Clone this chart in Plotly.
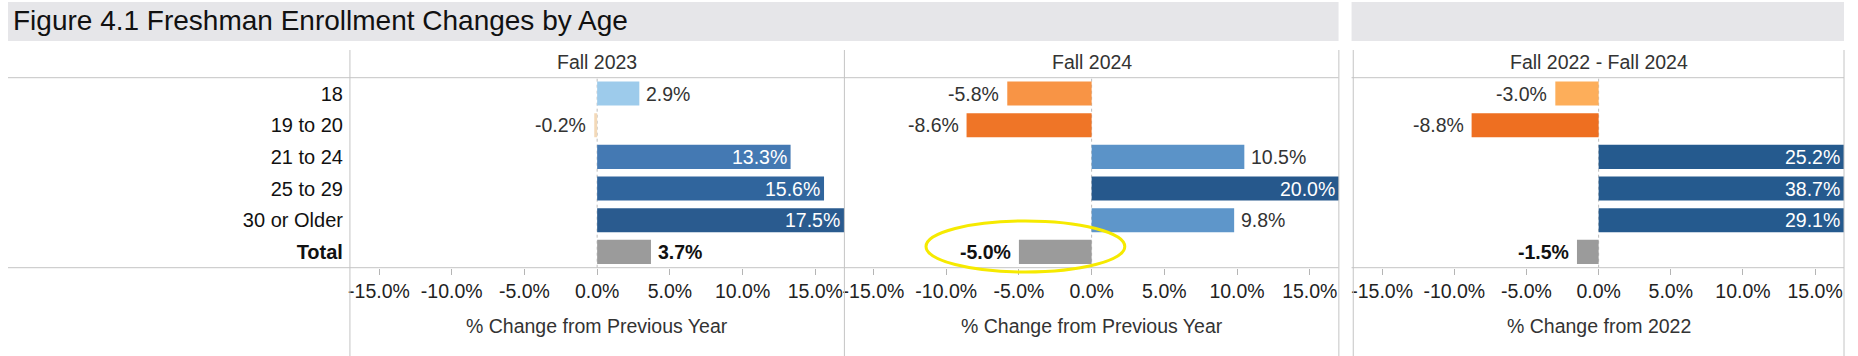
import plotly.graph_objects as go

# ---------------- data ----------------
chart_title = "Figure 4.1 Freshman Enrollment Changes by Age"
categories = ["18", "19 to 20", "21 to 24", "25 to 29", "30 or Older", "Total"]
fall_2023 = [2.9, -0.2, 13.3, 15.6, 17.5, 3.7]
fall_2024 = [-5.8, -8.6, 10.5, 20.0, 9.8, -5.0]
fall_2022_2024 = [-3.0, -8.8, 25.2, 38.7, 29.1, -1.5]
panel_titles = ["Fall 2023", "Fall 2024", "Fall 2022 - Fall 2024"]
axis_titles = ["% Change from Previous Year", "% Change from Previous Year", "% Change from 2022"]
tick_values = [-15, -10, -5, 0, 5, 10, 15]
tick_labels = ["-15.0%", "-10.0%", "-5.0%", "0.0%", "5.0%", "10.0%", "15.0%"]

# ---------------- styles ----------------
colors_2023 = ["#9dcbeb", "#f3d9b8", "#4479b3", "#30659d", "#2a5b8f", "#9b9b9b"]
colors_2024 = ["#f89445", "#ef7527", "#5b93c8", "#26588c", "#5e96ca", "#9b9b9b"]
colors_22_24 = ["#fdae5a", "#ee6f21", "#255a8e", "#255a8e", "#255a8e", "#9b9b9b"]

FONT = "Arial, 'Liberation Sans', sans-serif"
W, H = 1858, 356
XMAX = 17.0
INSIDE_MIN = 12.0
GRID = "#c4c4c4"


def px(x):
    return x / W


def py(y):
    return 1 - y / H


PLOT_TOP, PLOT_BOT = 77.7, 267.7
panel_px = [(348.3, 843.3), (843.3, 1338.3), (1352.7, 1844.0)]
series = [fall_2023, fall_2024, fall_2022_2024]
colors = [colors_2023, colors_2024, colors_22_24]
axis_ids = ["x", "x2", "x3"]
axis_keys = ["xaxis", "xaxis2", "xaxis3"]

fig = go.Figure()
annotations = []
shapes = []

for i in range(3):
    fig.add_trace(go.Bar(
        x=series[i], y=categories, orientation="h",
        xaxis=axis_ids[i], yaxis="y",
        marker=dict(color=colors[i], line=dict(width=0)),
        width=0.76, hoverinfo="x+y",
    ))
    x0, x1 = panel_px[i]
    fig.layout[axis_keys[i]] = dict(
        domain=[px(x0), px(x1)], range=[-XMAX, XMAX], anchor="y",
        tickmode="array", tickvals=tick_values, ticktext=tick_labels,
        ticks="outside", ticklen=6, tickcolor="#b5b5b5", tickwidth=1,
        showgrid=False, zeroline=False, showline=False,
        tickfont=dict(family=FONT, size=19.5, color="#222"),
        fixedrange=True,
    )
    # value labels (y given as category index)
    for j, (cat, v) in enumerate(zip(categories, series[i])):
        total = cat == "Total"
        txt = f"{v:.1f}%"
        if total:
            txt = f"<b>{txt}</b>"
        col = "#111" if total else "#333"
        if v >= INSIDE_MIN and not total:
            annotations.append(dict(
                x=min(v, XMAX), y=j, xref=axis_ids[i], yref="y", text=txt,
                showarrow=False, xanchor="right", xshift=-2,
                font=dict(family=FONT, size=19.5, color="white")))
        elif v >= 0:
            annotations.append(dict(
                x=v, y=j, xref=axis_ids[i], yref="y", text=txt,
                showarrow=False, xanchor="left", xshift=5,
                font=dict(family=FONT, size=19.5, color=col)))
        else:
            annotations.append(dict(
                x=v, y=j, xref=axis_ids[i], yref="y", text=txt,
                showarrow=False, xanchor="right", xshift=-6,
                font=dict(family=FONT, size=19.5, color=col)))
    # panel header and axis title
    annotations.append(dict(
        x=px((x0 + x1) / 2), y=py(62), xref="paper", yref="paper", text=panel_titles[i],
        showarrow=False, xanchor="center", yanchor="middle",
        font=dict(family=FONT, size=19.5, color="#333")))
    annotations.append(dict(
        x=px((x0 + x1) / 2), y=py(326), xref="paper", yref="paper", text=axis_titles[i],
        showarrow=False, xanchor="center", yanchor="middle",
        font=dict(family=FONT, size=19.5, color="#333")))
    # dotted zero line
    shapes.append(dict(type="line", xref=axis_ids[i], yref="paper", x0=0, x1=0,
                       y0=py(PLOT_BOT), y1=py(PLOT_TOP),
                       line=dict(color="#bdbdbd", width=1, dash="dot"), layer="below"))

# title
annotations.append(dict(
    x=px(9), y=py(21), xref="paper", yref="paper", text=chart_title, showarrow=False,
    xanchor="left", yanchor="middle", font=dict(family=FONT, size=28, color="#111")))

# title bands and horizontal rules
for (a, b) in [(6, 1338), (1351, 1844)]:
    shapes.append(dict(type="rect", xref="paper", yref="paper",
                       x0=px(a), x1=px(b), y0=py(41), y1=py(2),
                       fillcolor="#e6e6e9", line=dict(width=0), layer="below"))
    for yy in (PLOT_TOP, PLOT_BOT):
        shapes.append(dict(type="line", xref="paper", yref="paper",
                           x0=px(a), x1=px(b), y0=py(yy), y1=py(yy),
                           line=dict(color=GRID, width=1)))

# vertical separators
for xx in [348.3, 843.3, 1338.3, 1352.7, 1844.0]:
    shapes.append(dict(type="line", xref="paper", yref="paper",
                       x0=px(xx), x1=px(xx), y0=py(50), y1=py(H),
                       line=dict(color=GRID, width=1)))

# yellow highlight ellipse around the Fall 2024 total
shapes.append(dict(type="circle", xref="paper", yref="paper",
                   x0=px(925), x1=px(1124), y0=py(272), y1=py(221),
                   line=dict(color="#f6ea00", width=3)))

fig.update_layout(
    width=W, height=H, autosize=False,
    margin=dict(l=0, r=0, t=0, b=0, pad=0),
    paper_bgcolor="white", plot_bgcolor="white",
    showlegend=False, bargap=0.24,
    font=dict(family=FONT, size=19.5, color="#333"),
    yaxis=dict(
        type="category", categoryorder="array", categoryarray=categories,
        tickvals=categories,
        ticktext=[f"<b>{c}</b>" if c == "Total" else c for c in categories],
        range=[5.5, -0.5], domain=[py(PLOT_BOT), py(PLOT_TOP)], anchor="x",
        ticks="", ticklabelstandoff=6, showgrid=False, zeroline=False, showline=False,
        tickfont=dict(family=FONT, size=20, color="#111"), fixedrange=True,
    ),
    annotations=annotations,
    shapes=shapes,
)

fig.write_html("out.html", config={"displayModeBar": False},
               post_script="document.body.style.margin='0';document.body.style.overflow='hidden';")
